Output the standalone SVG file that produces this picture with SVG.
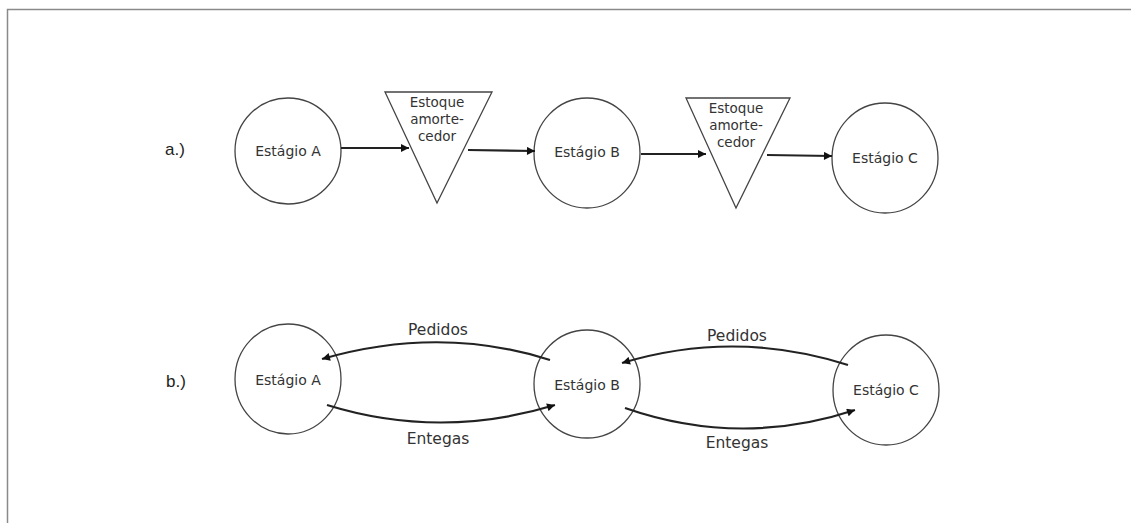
<svg xmlns="http://www.w3.org/2000/svg" width="1131" height="523" viewBox="0 0 1131 523">
<style>
.node{fill:#fff;stroke:#444;stroke-width:1.3}
.t{font-family:"DejaVu Sans",sans-serif;font-size:14px;fill:#333;text-anchor:middle}
.ts{font-family:"DejaVu Sans",sans-serif;font-size:13.5px;fill:#333;text-anchor:middle}
.tl{font-family:"DejaVu Sans",sans-serif;font-size:15.5px;fill:#333;text-anchor:middle}
.lab{font-family:"Liberation Sans",sans-serif;font-size:17px;fill:#222}
.c{fill:none;stroke:#222;stroke-width:2.2}
</style>
<defs>
<marker id="ah" viewBox="0 0 10 10" refX="10" refY="5" markerWidth="12" markerHeight="8" markerUnits="userSpaceOnUse" orient="auto"><path d="M0,0 L10,5 L0,10 z" fill="#111"/></marker>
</defs>
<rect x="7.5" y="9.5" width="1130" height="520" fill="#fff" stroke="#8a8a8a" stroke-width="1.5"/>
<text class="lab" x="165" y="155">a.)</text>
<text class="lab" x="166" y="387">b.)</text>
<g id="a-estagio-a"><ellipse class="node" cx="288" cy="151" rx="53" ry="53"/><text class="t" x="288" y="156">Estágio A</text></g>
<g id="a-estoque-1"><polygon class="node" points="385,92 492,92 437,203"/><text class="ts" x="437" y="107">Estoque</text><text class="ts" x="437" y="124">amorte-</text><text class="ts" x="437" y="141">cedor</text></g>
<g id="a-estagio-b"><ellipse class="node" cx="587" cy="153" rx="53" ry="55"/><text class="t" x="587" y="157">Estágio B</text></g>
<g id="a-estoque-2"><polygon class="node" points="686,98 790,98 736,208"/><text class="ts" x="736" y="113">Estoque</text><text class="ts" x="736" y="130">amorte-</text><text class="ts" x="736" y="147">cedor</text></g>
<g id="a-estagio-c"><ellipse class="node" cx="885" cy="158" rx="53" ry="55"/><text class="t" x="885" y="163">Estágio C</text></g>
<g id="b-estagio-a"><ellipse class="node" cx="288" cy="379" rx="53" ry="55"/><text class="t" x="288" y="385">Estágio A</text></g>
<g id="b-estagio-b"><ellipse class="node" cx="587" cy="384" rx="53" ry="54"/><text class="t" x="587" y="390">Estágio B</text></g>
<g id="b-estagio-c"><ellipse class="node" cx="886" cy="390" rx="53" ry="55"/><text class="t" x="886" y="395">Estágio C</text></g>
<g id="connectors">
<line class="c" x1="341" y1="148" x2="409" y2="148" marker-end="url(#ah)"/>
<line class="c" x1="468" y1="150" x2="535" y2="151" marker-end="url(#ah)"/>
<line class="c" x1="641" y1="154" x2="706" y2="154" marker-end="url(#ah)"/>
<line class="c" x1="767" y1="155" x2="832" y2="156" marker-end="url(#ah)"/>
<path class="c" d="M550,360 Q440,325 322,359" marker-end="url(#ah)"/>
<path class="c" d="M327,405 Q440,440 555,405" marker-end="url(#ah)"/>
<path class="c" d="M848,365 Q735,329 622,363" marker-end="url(#ah)"/>
<path class="c" d="M625,408 Q740,448 855,410" marker-end="url(#ah)"/>
<text class="tl" x="438" y="335">Pedidos</text>
<text class="tl" x="438" y="444">Entegas</text>
<text class="tl" x="737" y="341">Pedidos</text>
<text class="tl" x="737" y="448">Entegas</text>
</g>
</svg>
